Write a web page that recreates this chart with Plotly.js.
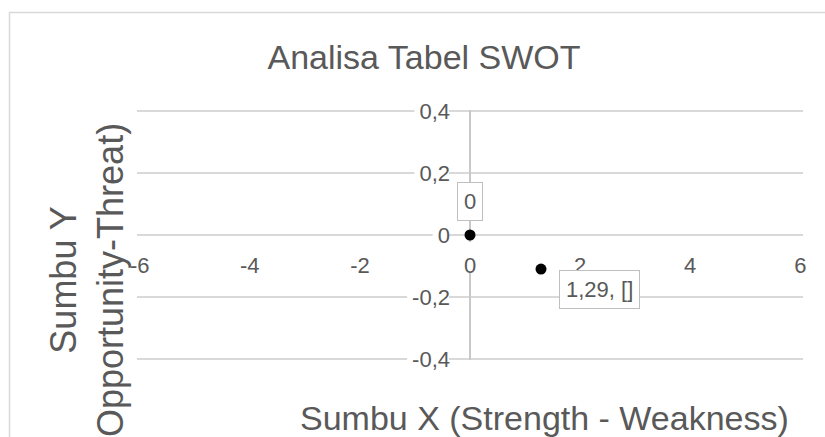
<!DOCTYPE html>
<html>
<head>
<meta charset="utf-8">
<script src="https://cdn.plot.ly/plotly-3.0.1.min.js"></script>
<style>
html,body{margin:0;padding:0;background:#fff;overflow:hidden;}
#chart{width:825px;height:437px;}
</style>
</head>
<body>
<div id="chart"></div>
<script>
// ---- data ----
const chartTitle = 'Analisa Tabel SWOT';
const xTitle = 'Sumbu X (Strength - Weakness)';
const yTitle = 'Sumbu Y<br>Opportunity-Threat)';
const xValues = [0, 1.29];
const yValues = [0, -0.11];
const pointLabels = ['0', '1,29, []'];
const xTickValues = [-6, -4, -2, 0, 2, 4, 6];
const xTickLabels = ['-6', '-4', '-2', '0', '2', '4', '6'];
const yTickValues = [-0.4, -0.2, 0, 0.2, 0.4];
const yTickLabels = ['-0,4', '-0,2', '0', '0,2', '0,4'];

// ---- style ----
const FONT = '"Liberation Sans", Arial, sans-serif';
const TXT = '#595959';
const GRID = '#d9d9d9';
const W = 825, H = 437;
const M = {l: 137, r: 22, t: 110, b: 77};
const pw = W - M.l - M.r, ph = H - M.t - M.b;
const px = v => (v - M.l) / pw;
const py = v => (H - M.b - v) / ph;
const TICK_SIZE = 22;
const Y_STANDOFF = 20;
const X_STANDOFF = 15;
const YPAD = 0.0033, XPAD = 0.05;   // tiny range padding so edge gridlines are drawn

const cv = document.createElement('canvas').getContext('2d');
cv.font = TICK_SIZE + 'px "Liberation Sans", Arial, sans-serif';
const measure = t => cv.measureText(t).width;

const shapes = [];
// chart-area border
shapes.push({type: 'rect', xref: 'paper', yref: 'paper', layer: 'below',
  x0: px(9.5), x1: px(840), y0: py(460), y1: py(12.5),
  line: {color: GRID, width: 1.5}, fillcolor: 'rgba(0,0,0,0)'});
// white backgrounds behind tick labels (like Excel)
yTickLabels.forEach((t, i) => {
  const w = measure(t);
  shapes.push({type: 'rect', layer: 'between', xref: 'x', yref: 'y',
    xsizemode: 'pixel', ysizemode: 'pixel', xanchor: 0, yanchor: yTickValues[i],
    x0: -(Y_STANDOFF + 3 + w + 2), x1: -(Y_STANDOFF + 1), y0: -9, y1: 9,
    fillcolor: '#ffffff', line: {width: 0}});
});
xTickLabels.forEach((t, i) => {
  const w = measure(t);
  shapes.push({type: 'rect', layer: 'between', xref: 'x', yref: 'y',
    xsizemode: 'pixel', ysizemode: 'pixel', xanchor: xTickValues[i], yanchor: 0,
    x0: -w / 2 - 3, x1: w / 2 + 3, y0: -38, y1: -7,
    fillcolor: '#ffffff', line: {width: 0}});
});

const labelShifts = [[0, 33.5], [58, -20]];
const annotations = pointLabels.map((t, i) => ({
  x: xValues[i], y: yValues[i], xref: 'x', yref: 'y', text: t, showarrow: false,
  xshift: labelShifts[i][0], yshift: labelShifts[i][1],
  font: {family: FONT, size: TICK_SIZE, color: TXT},
  bgcolor: '#ffffff', bordercolor: '#bfbfbf', borderwidth: 1, borderpad: 6
}));
annotations.push({
  xref: 'paper', yref: 'paper', x: px(791), y: py(418), xanchor: 'right', yanchor: 'middle',
  text: xTitle, showarrow: false, font: {family: FONT, size: 34, color: TXT}
});
annotations.push({
  xref: 'paper', yref: 'paper', x: px(87), y: py(280), xanchor: 'center', yanchor: 'middle',
  text: yTitle, showarrow: false, textangle: -90, align: 'center',
  font: {family: FONT, size: 36, color: TXT}
});

const trace = {
  type: 'scatter', mode: 'markers', x: xValues, y: yValues,
  marker: {color: '#000000', size: 11}, hoverinfo: 'skip', cliponaxis: false
};

const layout = {
  width: W, height: H,
  margin: M,
  paper_bgcolor: '#ffffff', plot_bgcolor: '#ffffff',
  showlegend: false, hovermode: false,
  separators: ',.',
  font: {family: FONT, color: TXT},
  title: {text: chartTitle, font: {family: FONT, size: 34, color: TXT},
    x: 424 / W, xanchor: 'center', xref: 'container',
    y: 1 - 57 / H, yanchor: 'middle', yref: 'container'},
  xaxis: {
    range: [-6 - XPAD, 6 + XPAD], anchor: 'free', position: 0.5,
    tickvals: xTickValues, ticktext: xTickLabels, ticks: '',
    ticklabelstandoff: X_STANDOFF,
    tickfont: {family: FONT, size: TICK_SIZE, color: TXT},
    showgrid: false, showline: false,
    zeroline: true, zerolinecolor: '#c8c8c8', zerolinewidth: 1.5,
    fixedrange: true
  },
  yaxis: {
    range: [-0.4 - YPAD, 0.4 + YPAD], anchor: 'free', position: 0.5,
    tickvals: yTickValues, ticktext: yTickLabels, ticks: '',
    ticklabelstandoff: Y_STANDOFF,
    tickfont: {family: FONT, size: TICK_SIZE, color: TXT},
    showgrid: true, gridcolor: GRID, gridwidth: 1.5,
    showline: false,
    zeroline: true, zerolinecolor: GRID, zerolinewidth: 1.5,
    fixedrange: true
  },
  shapes: shapes,
  annotations: annotations
};

Plotly.newPlot('chart', [trace], layout, {displayModeBar: false, staticPlot: true});
</script>
</body>
</html>
